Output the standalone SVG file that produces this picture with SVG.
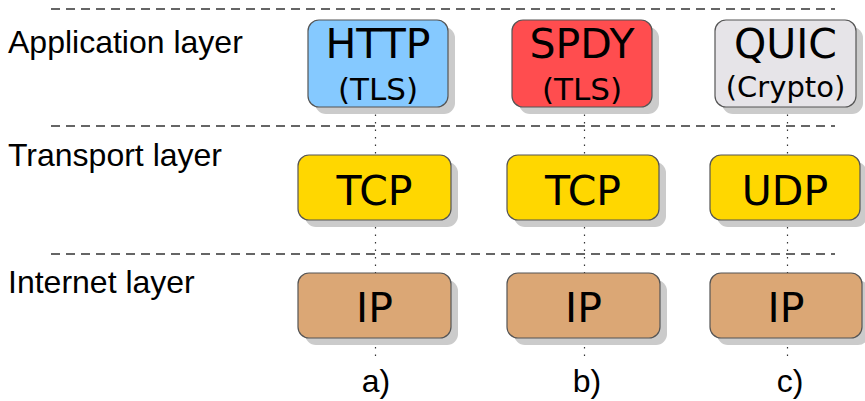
<svg xmlns="http://www.w3.org/2000/svg" width="865" height="401" viewBox="0 0 865 401">
<style>
.layer{font-family:"Liberation Sans",Arial,sans-serif;font-size:32px;fill:#000}
.cap{font-family:"Liberation Sans",Arial,sans-serif;font-size:32px;fill:#000;text-anchor:middle}
.big{font-family:"DejaVu Sans",Verdana,sans-serif;font-size:41px;fill:#000;text-anchor:middle}
.sub{font-family:"DejaVu Sans",Verdana,sans-serif;font-size:31px;fill:#000;text-anchor:middle}
.box{stroke:#555;stroke-width:1.2}
.shadow{fill:#cbcbcb}
.sep{stroke:#333;stroke-width:1.3;stroke-dasharray:9 6;fill:none}
.vert{stroke:#333;stroke-width:1.2;stroke-dasharray:1.5 6;fill:none}
</style>
<rect width="865" height="401" fill="#fff"/>
<g id="separators">
<line class="sep" x1="51" y1="9" x2="835" y2="9"/>
<line class="sep" x1="51" y1="126" x2="835" y2="126"/>
<line class="sep" x1="51" y1="254" x2="835" y2="254"/>
</g>
<g id="labels">
<text class="layer" x="8" y="53">Application layer</text>
<text class="layer" x="8" y="166">Transport layer</text>
<text class="layer" x="8" y="293">Internet layer</text>
<text class="cap" x="376" y="392">a)</text>
<text class="cap" x="587" y="392">b)</text>
<text class="cap" x="790" y="392">c)</text>
</g>
<g id="connectors">
<line class="vert" x1="375.5" y1="107" x2="375.5" y2="360"/>
<line class="vert" x1="584.5" y1="107" x2="584.5" y2="360"/>
<line class="vert" x1="787.5" y1="107" x2="787.5" y2="360"/>
</g>
<g id="http">
<rect class="shadow" x="315" y="27" width="140" height="87" rx="11"/>
<rect class="box" x="308" y="20" width="140" height="87" rx="11" fill="#85c9ff"/>
<text class="big" x="378" y="58">HTTP</text>
<text class="sub" x="378" y="100">(TLS)</text>
</g>
<g id="spdy">
<rect class="shadow" x="519" y="27" width="140" height="87" rx="11"/>
<rect class="box" x="512" y="20" width="140" height="87" rx="11" fill="#ff4d4f"/>
<text class="big" x="582" y="58">SPDY</text>
<text class="sub" x="582" y="100">(TLS)</text>
</g>
<g id="quic">
<rect class="shadow" x="722" y="27" width="141" height="87" rx="11"/>
<rect class="box" x="715" y="20" width="141" height="87" rx="11" fill="#e6e4e8"/>
<text class="big" x="785.5" y="58">QUIC</text>
<text class="sub" x="785.5" y="97" style="font-size:29px">(Crypto)</text>
</g>
<g id="tcp-a">
<rect class="shadow" x="305" y="162" width="153" height="65" rx="11"/>
<rect class="box" x="298" y="155" width="153" height="65" rx="11" fill="#ffd700"/>
<text class="big" x="374.5" y="205">TCP</text>
</g>
<g id="tcp-b">
<rect class="shadow" x="514" y="162" width="152" height="65" rx="11"/>
<rect class="box" x="507" y="155" width="152" height="65" rx="11" fill="#ffd700"/>
<text class="big" x="583" y="205">TCP</text>
</g>
<g id="udp">
<rect class="shadow" x="717" y="162" width="150" height="65" rx="11"/>
<rect class="box" x="710" y="155" width="150" height="65" rx="11" fill="#ffd700"/>
<text class="big" x="785" y="205">UDP</text>
</g>
<g id="ip-a">
<rect class="shadow" x="305" y="280" width="153" height="65" rx="11"/>
<rect class="box" x="298" y="273" width="153" height="65" rx="11" fill="#dba775"/>
<text class="big" x="374.5" y="322">IP</text>
</g>
<g id="ip-b">
<rect class="shadow" x="514" y="280" width="153" height="65" rx="11"/>
<rect class="box" x="507" y="273" width="153" height="65" rx="11" fill="#dba775"/>
<text class="big" x="583.5" y="322">IP</text>
</g>
<g id="ip-c">
<rect class="shadow" x="717" y="280" width="152" height="65" rx="11"/>
<rect class="box" x="710" y="273" width="152" height="65" rx="11" fill="#dba775"/>
<text class="big" x="786" y="322">IP</text>
</g>
</svg>
